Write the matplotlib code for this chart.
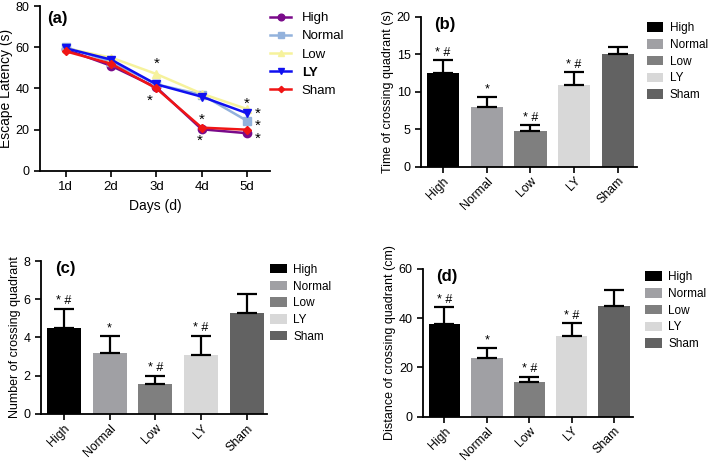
import matplotlib
matplotlib.use("Agg")
import matplotlib.pyplot as plt
import numpy as np
from matplotlib.patches import Patch

plt.rcParams['font.family'] = ['Liberation Sans', 'DejaVu Sans']

# (a) escape latency
days = ["1d", "2d", "3d", "4d", "5d"]
groups = ["High", "Normal", "Low", "LY", "Sham"]
lat_high = [59, 51, 40.5, 20.2, 18.3]
lat_normal = [60, 53, 42, 37, 24.3]
lat_low = [59.5, 55, 47, 37.5, 30]
lat_ly = [59.5, 54, 42, 36, 28]
lat_sham = [58, 52, 40, 21, 20]
# asterisk marks in (a): (day, y)
star_a = [(3, 52), (2.85, 34), (4, 25), (3.95, 14.5), (5, 32.5), (5.24, 27.5), (5.24, 22), (5.24, 15.5)]

# (b) time of crossing quadrant
time_mean = [12.5, 7.9, 4.7, 10.9, 15.0]
time_err = [1.7, 1.4, 0.8, 1.7, 0.9]
# (c) number of crossing quadrant
num_mean = [4.5, 3.2, 1.55, 3.1, 5.3]
num_err = [1.0, 0.9, 0.45, 1.0, 1.0]
# (d) distance of crossing quadrant
dist_mean = [37.5, 23.7, 14.2, 32.8, 45.0]
dist_err = [7.0, 4.3, 2.1, 5.2, 6.5]
sig_marks = ["* #", "*", "* #", "* #", ""]

line_colors = ["#7a0a8a", "#93b2dc", "#f6f29c", "#1010f0", "#f01515"]
line_markers = ["o", "s", "^", "v", "D"]
bar_colors = ["#000000", "#a0a0a4", "#7f7f7f", "#d8d8d8", "#626262"]

fig = plt.figure(figsize=(7.09, 4.62), dpi=100)


def style_axes(ax):
    for s in ["top", "right"]:
        ax.spines[s].set_visible(False)
    ax.spines["left"].set_linewidth(1.3)
    ax.spines["bottom"].set_linewidth(1.3)
    ax.tick_params(width=1.2, length=4, labelsize=9)


# ---- (a)
ax = fig.add_axes([0.0564, 0.630, 0.324, 0.357])
x = np.arange(1, 6)
series = [lat_high, lat_normal, lat_low, lat_ly, lat_sham]
msizes = [6, 6, 6, 6, 4]
for vals, name, c, m, ms in zip(series, groups, line_colors, line_markers, msizes):
    ax.plot(x, vals, color=c, marker=m, markersize=ms, linewidth=1.8, label=name)
for sx, sy in star_a:
    ax.text(sx, sy, "*", ha="center", va="center", fontsize=11)
ax.set_xlim(0.43, 5.5)
ax.set_ylim(0, 80)
ax.set_xticks(x)
ax.set_xticklabels(days)
ax.set_yticks([0, 20, 40, 60, 80])
style_axes(ax)
ax.tick_params(axis="x", labelsize=9.5)
ax.set_xlabel("Days (d)", fontsize=10)
ax.set_ylabel("Escape Latency (s)", fontsize=10, labelpad=2)
ax.text(0.03, 0.97, "(a)", transform=ax.transAxes, fontsize=12, fontweight="bold", va="top")
leg = ax.legend(loc="upper left", bbox_to_anchor=(0.381, 0.974), bbox_transform=fig.transFigure,
                frameon=False, fontsize=9.5, handlelength=1.6, handletextpad=0.8,
                labelspacing=0.45, borderaxespad=0, borderpad=0, markerscale=0.8)
for t in leg.get_texts():
    if t.get_text() == "LY":
        t.set_fontweight("bold")


def bar_panel(rect, means, errs, ylim, yticks, ylabel, tag, leg_xy):
    ax = fig.add_axes(rect)
    pos = np.arange(len(groups))
    ax.bar(pos, means, width=0.74, color=bar_colors, zorder=2)
    ax.errorbar(pos, means, yerr=[np.zeros(len(errs)), errs], fmt="none", ecolor="black",
                elinewidth=1.6, capsize=7, capthick=1.6, zorder=3)
    for p, mval, e, s in zip(pos, means, errs, sig_marks):
        if s:
            ax.text(p, mval + e + ylim * 0.01, s, ha="center", va="bottom", fontsize=9)
    ax.set_xlim(-0.5, 4.45)
    ax.set_ylim(0, ylim)
    ax.set_yticks(yticks)
    ax.set_xticks(pos)
    ax.set_xticklabels(groups, rotation=45, ha="right", rotation_mode="anchor")
    style_axes(ax)
    ax.tick_params(axis="x", labelsize=8.8, pad=2)
    ax.set_ylabel(ylabel, fontsize=9, labelpad=2)
    ax.text(0.06, 1.0, tag, transform=ax.transAxes, fontsize=12, fontweight="bold", va="top")
    handles = [Patch(facecolor=c, label=g) for c, g in zip(bar_colors, groups)]
    ax.legend(handles=handles, loc="upper left", bbox_to_anchor=leg_xy,
              bbox_transform=fig.transFigure, frameon=False, fontsize=8.5,
              handlelength=1.4, handleheight=0.85, handletextpad=0.55, labelspacing=0.4,
              borderaxespad=0, borderpad=0)
    return ax


bar_panel([0.594, 0.639, 0.305, 0.325], time_mean, time_err, 20, [0, 5, 10, 15, 20],
          "Time of crossing quadrant (s)", "(b)", (0.9125, 0.952))
bar_panel([0.058, 0.104, 0.319, 0.331], num_mean, num_err, 8, [0, 2, 4, 6, 8],
          "Number of crossing quadrant", "(c)", (0.381, 0.429))
bar_panel([0.597, 0.098, 0.296, 0.320], dist_mean, dist_err, 60, [0, 20, 40, 60],
          "Distance of crossing quadrant (cm)", "(d)", (0.91, 0.413))

fig.savefig("out.png", dpi=100)
